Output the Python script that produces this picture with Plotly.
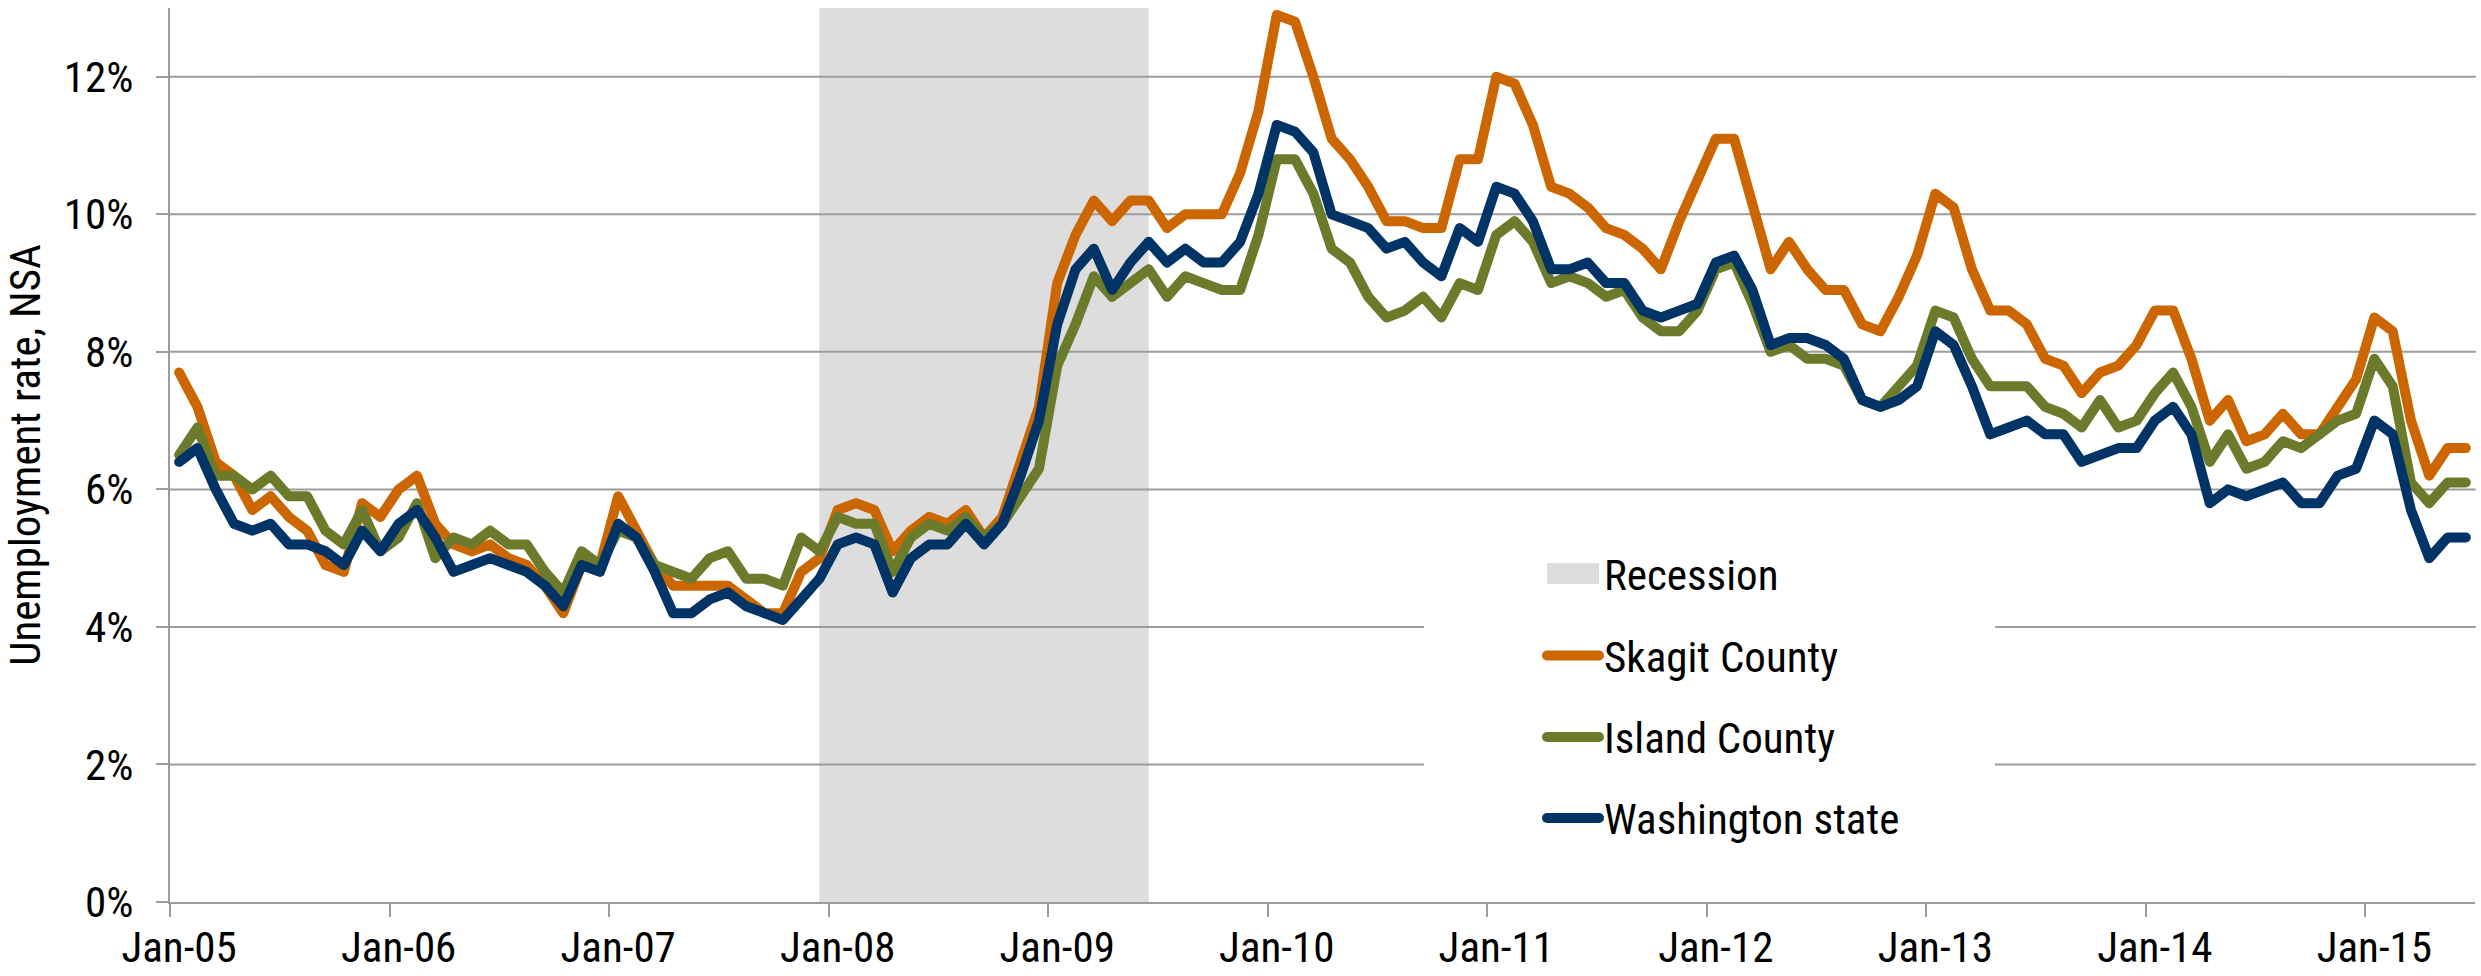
import plotly.graph_objects as go

# ---------------- data ----------------
skagit = [
    7.7, 7.2, 6.4, 6.2, 5.7, 5.9, 5.6, 5.4, 4.9, 4.8, 5.8, 5.6,        # 2005
    6.0, 6.2, 5.5, 5.2, 5.1, 5.2, 5.0, 4.9, 4.6, 4.2, 4.9, 4.9,        # 2006
    5.9, 5.4, 4.9, 4.6, 4.6, 4.6, 4.6, 4.4, 4.2, 4.2, 4.8, 5.0,        # 2007
    5.7, 5.8, 5.7, 5.1, 5.4, 5.6, 5.5, 5.7, 5.3, 5.6, 6.4, 7.2,        # 2008
    9.0, 9.7, 10.2, 9.9, 10.2, 10.2, 9.8, 10.0, 10.0, 10.0, 10.6, 11.5,  # 2009
    12.9, 12.8, 12.0, 11.1, 10.8, 10.4, 9.9, 9.9, 9.8, 9.8, 10.8, 10.8,  # 2010
    12.0, 11.9, 11.3, 10.4, 10.3, 10.1, 9.8, 9.7, 9.5, 9.2, 9.9, 10.5,  # 2011
    11.1, 11.1, 10.1, 9.2, 9.6, 9.2, 8.9, 8.9, 8.4, 8.3, 8.8, 9.4,     # 2012
    10.3, 10.1, 9.2, 8.6, 8.6, 8.4, 7.9, 7.8, 7.4, 7.7, 7.8, 8.1,      # 2013
    8.6, 8.6, 7.9, 7.0, 7.3, 6.7, 6.8, 7.1, 6.8, 6.8, 7.2, 7.6,        # 2014
    8.5, 8.3, 7.0, 6.2, 6.6, 6.6,                                      # 2015 (Jan-Jun)
]
island = [
    6.5, 6.9, 6.2, 6.2, 6.0, 6.2, 5.9, 5.9, 5.4, 5.2, 5.7, 5.1,
    5.3, 5.8, 5.0, 5.3, 5.2, 5.4, 5.2, 5.2, 4.8, 4.5, 5.1, 4.9,
    5.4, 5.3, 4.9, 4.8, 4.7, 5.0, 5.1, 4.7, 4.7, 4.6, 5.3, 5.1,
    5.6, 5.5, 5.5, 4.8, 5.3, 5.5, 5.4, 5.6, 5.3, 5.5, 5.9, 6.3,
    7.8, 8.4, 9.1, 8.8, 9.0, 9.2, 8.8, 9.1, 9.0, 8.9, 8.9, 9.7,
    10.8, 10.8, 10.3, 9.5, 9.3, 8.8, 8.5, 8.6, 8.8, 8.5, 9.0, 8.9,
    9.7, 9.9, 9.6, 9.0, 9.1, 9.0, 8.8, 8.9, 8.5, 8.3, 8.3, 8.6,
    9.2, 9.3, 8.7, 8.0, 8.1, 7.9, 7.9, 7.8, 7.3, 7.2, 7.5, 7.8,
    8.6, 8.5, 7.9, 7.5, 7.5, 7.5, 7.2, 7.1, 6.9, 7.3, 6.9, 7.0,
    7.4, 7.7, 7.2, 6.4, 6.8, 6.3, 6.4, 6.7, 6.6, 6.8, 7.0, 7.1,
    7.9, 7.5, 6.1, 5.8, 6.1, 6.1,
]
washington = [
    6.4, 6.6, 6.0, 5.5, 5.4, 5.5, 5.2, 5.2, 5.1, 4.9, 5.4, 5.1,
    5.5, 5.7, 5.3, 4.8, 4.9, 5.0, 4.9, 4.8, 4.6, 4.3, 4.9, 4.8,
    5.5, 5.3, 4.8, 4.2, 4.2, 4.4, 4.5, 4.3, 4.2, 4.1, 4.4, 4.7,
    5.2, 5.3, 5.2, 4.5, 5.0, 5.2, 5.2, 5.5, 5.2, 5.5, 6.2, 7.0,
    8.4, 9.2, 9.5, 8.9, 9.3, 9.6, 9.3, 9.5, 9.3, 9.3, 9.6, 10.3,
    11.3, 11.2, 10.9, 10.0, 9.9, 9.8, 9.5, 9.6, 9.3, 9.1, 9.8, 9.6,
    10.4, 10.3, 9.9, 9.2, 9.2, 9.3, 9.0, 9.0, 8.6, 8.5, 8.6, 8.7,
    9.3, 9.4, 8.9, 8.1, 8.2, 8.2, 8.1, 7.9, 7.3, 7.2, 7.3, 7.5,
    8.3, 8.1, 7.5, 6.8, 6.9, 7.0, 6.8, 6.8, 6.4, 6.5, 6.6, 6.6,
    7.0, 7.2, 6.8, 5.8, 6.0, 5.9, 6.0, 6.1, 5.8, 5.8, 6.2, 6.3,
    7.0, 6.8, 5.7, 5.0, 5.3, 5.3,
]
recession_first_month = 35   # Dec-2007 (months counted from Jan-2005)
recession_last_month = 53    # Jun-2009
x_tick_labels = ["Jan-05", "Jan-06", "Jan-07", "Jan-08", "Jan-09", "Jan-10",
                 "Jan-11", "Jan-12", "Jan-13", "Jan-14", "Jan-15"]
y_tick_values = [0, 2, 4, 6, 8, 10, 12]
series_names = ["Skagit County", "Island County", "Washington state"]
legend_labels = ["Recession"] + series_names

# ---------------- style ----------------
FONT = "Roboto Condensed, Archivo Narrow, Liberation Sans, sans-serif"
FS = 43
C_SKAGIT = "#CC6600"
C_ISLAND = "#6B7B2B"
C_WA = "#003366"
C_REC = "#DDDDDD"
C_GRID = "#9C9C9C"
COLORS = [C_SKAGIT, C_ISLAND, C_WA]

W, H = 2481, 976
PL, PR, PT, PB = 170, 2475, 8, 902


def px(xp):
    return (xp - PL) / (PR - PL)


def py(yp):
    return (PB - yp) / (PB - PT)


n = len(skagit)
xpos = [i + 0.5 for i in range(n)]          # each point centred in its month
year_starts = [12 * k for k in range(len(x_tick_labels))]

fig = go.Figure()
for name, vals, col in zip(series_names, [skagit, island, washington], COLORS):
    fig.add_trace(go.Scatter(x=xpos, y=vals, mode="lines", name=name,
                             line=dict(color=col, width=10),
                             showlegend=False))

shapes = [
    dict(type="rect", xref="x", yref="paper",
         x0=recession_first_month + 0.5, x1=recession_last_month + 0.5,
         y0=0, y1=1, fillcolor=C_REC, line=dict(width=0), layer="below"),
]
for v in y_tick_values[1:]:
    shapes.append(dict(type="line", xref="paper", yref="y", x0=0, x1=1, y0=v, y1=v,
                       line=dict(color=C_GRID, width=2), layer="below"))
# legend background (hides gridlines behind the legend)
shapes.append(dict(type="rect", xref="paper", yref="paper",
                   x0=px(1424), x1=px(1995), y0=py(880), y1=py(505),
                   fillcolor="white", line=dict(width=0), layer="below"))

legend_y = [573.5, 655.5, 737, 818]
annotations = []
for k, (label, yc) in enumerate(zip(legend_labels, legend_y)):
    if k == 0:
        shapes.append(dict(type="rect", xref="paper", yref="paper",
                           x0=px(1547), x1=px(1599), y0=py(584), y1=py(563),
                           fillcolor=C_REC, line=dict(width=0), layer="above"))
    else:
        shapes.append(dict(type="line", xref="paper", yref="paper",
                           x0=px(1547), x1=px(1599), y0=py(yc), y1=py(yc),
                           line=dict(color=COLORS[k - 1], width=10), layer="above"))
    annotations.append(dict(text=label, xref="paper", yref="paper",
                            x=px(1602), y=py(yc + 1), xanchor="left", yanchor="middle",
                            showarrow=False,
                            font=dict(family=FONT, size=FS, color="black")))

fig.update_layout(
    width=W, height=H,
    margin=dict(l=PL, r=W - PR, t=PT, b=H - PB),
    paper_bgcolor="white", plot_bgcolor="white",
    font=dict(family=FONT, size=FS, color="black"),
    shapes=shapes, annotations=annotations,
    showlegend=False,
    xaxis=dict(range=[0, n], tickmode="array", automargin=False,
               tickvals=[m + 0.5 for m in year_starts],   # labels centred on January
               ticktext=x_tick_labels, ticks="", showline=True, linecolor=C_GRID,
               linewidth=2, showgrid=False, zeroline=False,
               ticklabelstandoff=6,
               minor=dict(tickmode="array", tickvals=year_starts, ticks="outside",
                          ticklen=13, tickwidth=2, tickcolor=C_GRID, showgrid=False),
               tickfont=dict(family=FONT, size=FS, color="black")),
    yaxis=dict(range=[0, 13], tickmode="array", tickvals=y_tick_values, automargin=False,
               ticktext=[f"{v}%" for v in y_tick_values],
               ticks="outside", ticklen=12, tickwidth=2, tickcolor=C_GRID,
               showline=True, linecolor=C_GRID, linewidth=2,
               showgrid=False, zeroline=False,
               ticklabelstandoff=14,
               tickfont=dict(family=FONT, size=FS, color="black"),
               title=dict(text="Unemployment rate, NSA", standoff=10,
                          font=dict(family=FONT, size=FS, color="black"))),
)

post = ("document.body.style.margin='0';document.body.style.overflow='hidden';"
        "document.querySelectorAll('.scatterlayer .js-line').forEach(function(p){"
        "p.style.strokeLinejoin='round';p.style.strokeLinecap='round';});"
        "document.querySelectorAll('.shapelayer path').forEach(function(p){"
        "p.style.strokeLinecap='round';});")
fig.write_html("out.html", post_script=post, config={"displayModeBar": False})
